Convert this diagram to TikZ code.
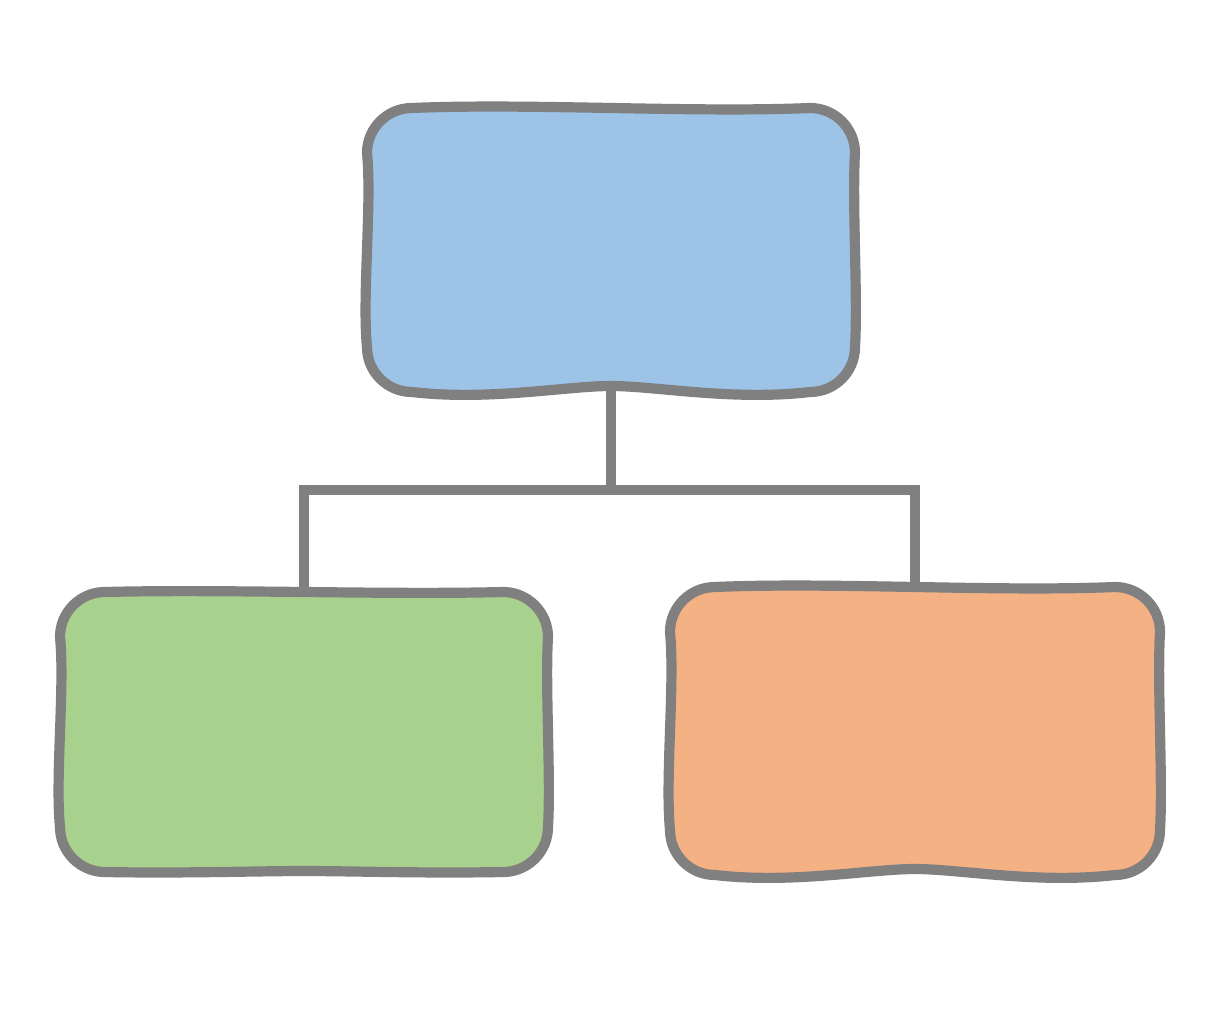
\documentclass[tikz,border=0pt]{standalone}
\definecolor{edgegray}{HTML}{808080}
\definecolor{boxblue}{HTML}{9DC3E6}
\definecolor{boxgreen}{HTML}{A9D18E}
\definecolor{boxorange}{HTML}{F4B183}
\newcommand{\wobblybox}[6]{% name, fill, half width, half height, top wobble, bottom bump
  \begin{scope}[shift={(#1.center)}]
  \pgfmathsetmacro{\bw}{#3}
  \pgfmathsetmacro{\bh}{#4}
  \pgfmathsetmacro{\br}{0.45}
  \pgfmathsetmacro{\bk}{0.552*\br}
  \draw[boxline, fill=#2]
    ({-\bw+\br},\bh) .. controls ({-\bw/3},{\bh+#5}) and ({\bw/3},{\bh-#5}) .. ({\bw-\br},\bh)
    .. controls ({\bw-\br+\bk},\bh) and (\bw,{\bh-\br+\bk}) .. (\bw,{\bh-\br})
    .. controls ({\bw-0.03},{\bh/3}) and ({\bw+0.03},{-\bh/3}) .. (\bw,{-\bh+\br})
    .. controls (\bw,{-\bh+\br-\bk}) and ({\bw-\br+\bk},-\bh) .. ({\bw-\br},-\bh)
    .. controls ({\bw/2},{-\bh-1.5*#6}) and (0.45,{-\bh+#6}) .. (0,{-\bh+#6})
    .. controls (-0.45,{-\bh+#6}) and ({-\bw/2},{-\bh-1.5*#6}) .. ({-\bw+\br},-\bh)
    .. controls ({-\bw+\br-\bk},-\bh) and (-\bw,{-\bh+\br-\bk}) .. (-\bw,{-\bh+\br})
    .. controls ({-\bw-0.05},{-\bh/3}) and ({-\bw+0.05},{\bh/3}) .. (-\bw,{\bh-\br})
    .. controls (-\bw,{\bh-\br+\bk}) and ({-\bw+\br-\bk},\bh) .. ({-\bw+\br},\bh) -- cycle;
  \end{scope}}
\begin{document}
\begin{tikzpicture}[
  boxline/.style={draw=edgegray, line width=2.9pt, line join=round},
  anchorbox/.style={inner sep=0pt, draw=none},
  link/.style={draw=edgegray, line width=2.8pt}
]
\useasboundingbox (0,0) rectangle (12.27,10.27);
\node[anchorbox, minimum width=4.9cm, minimum height=2.86cm] (top) at (6.11,7.77) {};
\node[anchorbox, minimum width=4.9cm, minimum height=2.82cm] (left) at (3.04,2.95) {};
\node[anchorbox, minimum width=4.92cm, minimum height=2.9cm] (right) at (9.15,2.96) {};
\coordinate (j) at (6.11,5.37);
\draw[link] (top.center) -- (j);
\draw[link] (left.center) |- (j) -| (right.center);
\wobblybox{top}{boxblue}{2.44}{1.42}{0.05}{0.06}
\wobblybox{left}{boxgreen}{2.44}{1.40}{0.03}{0.01}
\wobblybox{right}{boxorange}{2.45}{1.44}{0.05}{0.06}
\end{tikzpicture}
\end{document}
